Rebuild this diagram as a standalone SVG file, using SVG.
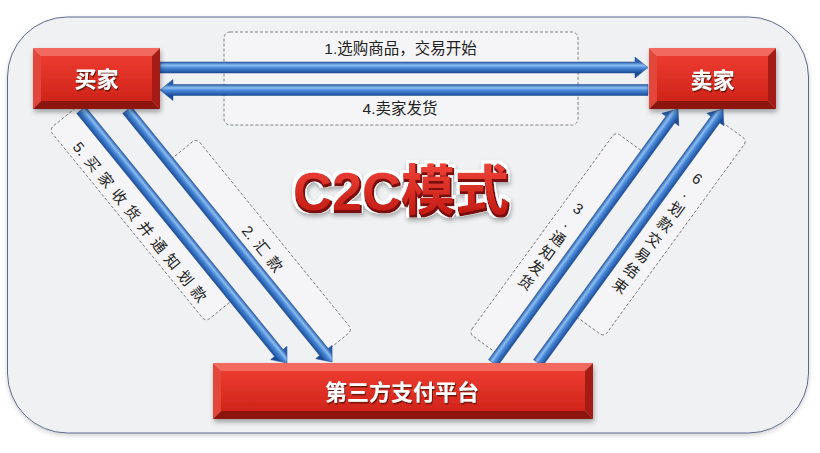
<svg xmlns="http://www.w3.org/2000/svg" width="820" height="453" viewBox="0 0 820 453">
  <defs>
    <linearGradient id="tube" gradientUnits="userSpaceOnUse" x1="0" y1="-5.5" x2="0" y2="5.5">
      <stop offset="0" stop-color="#2a5fae"/>
      <stop offset="0.3" stop-color="#8cbdf0"/>
      <stop offset="0.55" stop-color="#4787d6"/>
      <stop offset="1" stop-color="#1c4c98"/>
    </linearGradient>
    <linearGradient id="face" x1="0" y1="0" x2="0" y2="1">
      <stop offset="0" stop-color="#ec3b30"/>
      <stop offset="1" stop-color="#d0241b"/>
    </linearGradient>
    <linearGradient id="titleFill" x1="0" y1="0" x2="0" y2="1">
      <stop offset="0" stop-color="#f2453a"/>
      <stop offset="1" stop-color="#bd160f"/>
    </linearGradient>
    <filter id="nodeShadow" x="-10%" y="-20%" width="125%" height="160%">
      <feDropShadow dx="1" dy="3" stdDeviation="2.5" flood-color="#000" flood-opacity="0.35"/>
    </filter>
    <filter id="panelShadow" x="-5%" y="-5%" width="110%" height="112%">
      <feDropShadow dx="0" dy="2" stdDeviation="2" flood-color="#000" flood-opacity="0.18"/>
    </filter>
    <filter id="txtShadow" x="-10%" y="-30%" width="130%" height="170%">
      <feDropShadow dx="1" dy="1.5" stdDeviation="0.7" flood-color="#4a0804" flood-opacity="0.8"/>
    </filter>
    <filter id="titleFx" x="-10%" y="-30%" width="125%" height="170%">
      <feMorphology in="SourceAlpha" operator="dilate" radius="1" result="d1"/>
      <feOffset in="d1" dx="1" dy="1.5" result="d1o"/>
      <feFlood flood-color="#7a0c08"/>
      <feComposite in2="d1o" operator="in" result="edge"/>
      <feMorphology in="SourceAlpha" operator="dilate" radius="2.5" result="d3"/>
      <feFlood flood-color="#ffffff"/>
      <feComposite in2="d3" operator="in" result="halo"/>
      <feGaussianBlur in="d3" stdDeviation="2" result="b"/>
      <feOffset in="b" dx="1" dy="3" result="ob"/>
      <feFlood flood-color="#000" flood-opacity="0.3"/>
      <feComposite in2="ob" operator="in" result="shadow"/>
      <feMerge>
        <feMergeNode in="shadow"/>
        <feMergeNode in="halo"/>
        <feMergeNode in="edge"/>
        <feMergeNode in="SourceGraphic"/>
      </feMerge>
    </filter>
  </defs>
  <style>
    .arrow { fill: url(#tube); stroke: #1d4a90; stroke-width: 0.5; }
    .lbox { fill: #f5f5f7; stroke: #666; stroke-width: 0.8; stroke-dasharray: 3 2; }
    .ltxt { font-family: "Liberation Sans", "Noto Sans CJK SC", sans-serif; font-size: 15px; fill: #222; text-anchor: middle; }
    .vtxt { writing-mode: vertical-rl; text-orientation: upright; }
    .bt { fill: #f26a5e; }
    .bl { fill: #e3463b; }
    .br { fill: #a51b13; }
    .bb { fill: #8c150e; }
    .face { fill: url(#face); }
    .ntxt { font-family: "Noto Sans CJK SC", "Liberation Sans", sans-serif; font-size: 22px; font-weight: bold; fill: #fff; text-anchor: middle; filter: url(#txtShadow); }
    .title { font-family: "Liberation Sans", "Noto Sans CJK SC", sans-serif; font-size: 54px; font-weight: bold; fill: url(#titleFill); text-anchor: middle; filter: url(#titleFx); }
  </style>

  <rect x="0" y="0" width="820" height="453" fill="#ffffff"/>
  <rect x="7.5" y="17" width="801" height="416" rx="60" ry="60" fill="#f0f1f3" stroke="#5d6b8f" stroke-width="1" filter="url(#panelShadow)"/>

  <g id="labels">
    <g id="label-1-4">
      <rect class="lbox" x="224" y="32" width="354" height="93" rx="6"/>
      <text class="ltxt" x="400.5" y="54" style="font-size:15.5px">1.选购商品，交易开始</text>
      <text class="ltxt" x="400" y="114" style="font-size:15.5px">4.卖家发货</text>
    </g>
    <g id="label-5">
      <rect class="lbox" transform="translate(81,110) rotate(50.85)" x="-5" y="-3" width="248" height="40" rx="5"/>
      <text class="ltxt" transform="translate(139.8,222) rotate(50.85)" x="3" y="5.3" letter-spacing="6"><tspan letter-spacing="0">5</tspan>.买家收货并通知划款</text>
    </g>
    <g id="label-2">
      <rect class="lbox" transform="translate(127,110) rotate(50.87)" x="66" y="-36" width="247" height="38" rx="5"/>
      <text class="ltxt" transform="translate(262.4,248.8) rotate(50.87)" x="3" y="5.3" letter-spacing="6"><tspan letter-spacing="0">2</tspan>.汇款</text>
    </g>
    <g id="label-3">
      <rect class="lbox" transform="translate(493,363) rotate(-53.93)" x="10" y="-37" width="249" height="39" rx="5"/>
      <text class="ltxt vtxt" transform="translate(552.4,244.2) rotate(36.07)" x="0" y="2" letter-spacing="3"><tspan letter-spacing="0">3</tspan>.通知发货</text>
    </g>
    <g id="label-6">
      <rect class="lbox" transform="translate(538,363) rotate(-53.93)" x="60" y="-2" width="243" height="40" rx="5"/>
      <text class="ltxt vtxt" transform="translate(659,231) rotate(36.07)" x="0" y="2.5" letter-spacing="4"><tspan letter-spacing="0">6</tspan>.划款交易结束</text>
    </g>
  </g>

  <g id="connectors">
    <path id="arrow-1" class="arrow" transform="translate(160,67.5)" d="M0,-5.5 H475 V-10.5 L488,0 L475,10.5 V5.5 H0 Z"/>
    <path id="arrow-4" class="arrow" transform="translate(648,90) scale(-1,1)" d="M0,-5.5 H475 V-10.5 L488,0 L475,10.5 V5.5 H0 Z"/>
    <path id="arrow-5" class="arrow" transform="translate(81,110) rotate(50.85)" d="M0,-5.5 H313.3 V-10.5 L326.3,0 L313.3,10.5 V5.5 H0 Z"/>
    <path id="arrow-2" class="arrow" transform="translate(127,110) rotate(50.87)" d="M0,-5.5 H312 V-10.5 L325,0 L312,10.5 V5.5 H0 Z"/>
    <path id="arrow-3" class="arrow" transform="translate(493,363) rotate(-53.93)" d="M0,-5.5 H301.2 V-10.5 L314.2,0 L301.2,10.5 V5.5 H0 Z"/>
    <path id="arrow-6" class="arrow" transform="translate(538,363) rotate(-53.93)" d="M0,-5.5 H301.2 V-10.5 L314.2,0 L301.2,10.5 V5.5 H0 Z"/>
  </g>

  <g id="buyer">
    <g filter="url(#nodeShadow)">
      <polygon class="bt" points="33,48 160,48 152,56 41,56"/>
      <polygon class="bl" points="33,48 41,56 41,101 33,109"/>
      <polygon class="br" points="160,48 160,109 152,101 152,56"/>
      <polygon class="bb" points="33,109 41,101 152,101 160,109"/>
      <rect class="face" x="41" y="56" width="111" height="45"/>
    </g>
    <text class="ntxt" x="96.5" y="86.5">买家</text>
  </g>

  <g id="seller">
    <g filter="url(#nodeShadow)">
      <polygon class="bt" points="649,48 776,48 768,56 657,56"/>
      <polygon class="bl" points="649,48 657,56 657,101 649,109"/>
      <polygon class="br" points="776,48 776,109 768,101 768,56"/>
      <polygon class="bb" points="649,109 657,101 768,101 776,109"/>
      <rect class="face" x="657" y="56" width="111" height="45"/>
    </g>
    <text class="ntxt" x="712.5" y="88">卖家</text>
  </g>

  <g id="platform">
    <g filter="url(#nodeShadow)">
      <polygon class="bt" points="213,363 593,363 585,371 221,371"/>
      <polygon class="bl" points="213,363 221,371 221,411 213,419"/>
      <polygon class="br" points="593,363 593,419 585,411 585,371"/>
      <polygon class="bb" points="213,419 221,411 585,411 593,419"/>
      <rect class="face" x="221" y="371" width="364" height="40"/>
    </g>
    <text class="ntxt" x="402" y="400">第三方支付平台</text>
  </g>

  <g id="title">
    <text class="title" x="401" y="210">C2C模式</text>
  </g>
</svg>
